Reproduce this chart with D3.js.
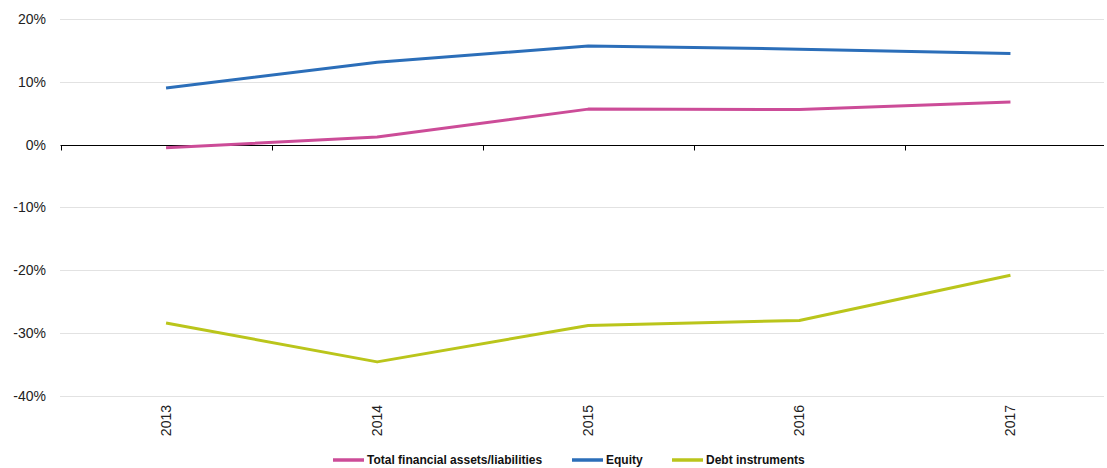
<!DOCTYPE html>
<html>
<head>
<meta charset="utf-8">
<script src="https://cdn.jsdelivr.net/npm/d3@7"></script>
<style>
  html, body { margin: 0; padding: 0; background: #fff; }
  svg { display: block; font-family: "Liberation Sans", Arial, sans-serif; }
</style>
</head>
<body>
<svg id="chart" width="1107" height="468"></svg>
<script>
// Annual growth rates by instrument
const years = ["2013", "2014", "2015", "2016", "2017"];
const totalFinancial = [-0.5, 1.2, 5.65, 5.6, 6.8];
const equity = [9.0, 13.1, 15.7, 15.2, 14.5];
const debtInstruments = [-28.4, -34.6, -28.8, -28.0, -20.8];
const yTicks = [20, 10, 0, -10, -20, -30, -40];
const seriesNames = ["Total financial assets/liabilities", "Equity", "Debt instruments"];
const seriesColors = ["#cc4c98", "#2b6eb9", "#bac51b"];

const series = [totalFinancial, equity, debtInstruments].map((values, i) => ({
  name: seriesNames[i], color: seriesColors[i], values
}));

const svg = d3.select("#chart");
const left = 60.5, right = 1116, plotRight = 1104;

const x = d3.scaleBand().domain(years).range([left, right]);
const y = d3.scaleLinear().domain([-40, 20]).range([395.8, 19]);

// Horizontal gridlines
svg.append("g")
  .selectAll("line")
  .data(yTicks.filter(t => t !== 0))
  .join("line")
  .attr("x1", left).attr("x2", plotRight)
  .attr("y1", d => Math.round(y(d)) + 0.5).attr("y2", d => Math.round(y(d)) + 0.5)
  .attr("stroke", "#c4c4c4")
  .attr("stroke-width", 1)
  .attr("stroke-dasharray", "1,1");

// Y axis labels
svg.append("g")
  .selectAll("text")
  .data(yTicks)
  .join("text")
  .attr("x", 46)
  .attr("y", d => y(d))
  .attr("dy", "0.35em")
  .attr("text-anchor", "end")
  .attr("font-size", 14)
  .attr("fill", "#222")
  .text(d => d + "%");

// Zero axis with ticks at category boundaries
const zeroY = Math.round(y(0)) + 0.5;
svg.append("line")
  .attr("x1", left).attr("x2", plotRight)
  .attr("y1", zeroY).attr("y2", zeroY)
  .attr("stroke", "#000").attr("stroke-width", 1.2);
const boundaries = years.map(d => x(d)).concat([x(years[years.length - 1]) + x.bandwidth()])
  .filter(v => v <= plotRight);
svg.append("g")
  .selectAll("line")
  .data(boundaries)
  .join("line")
  .attr("x1", d => Math.round(d) + 0.5).attr("x2", d => Math.round(d) + 0.5)
  .attr("y1", zeroY).attr("y2", zeroY + 5)
  .attr("stroke", "#000").attr("stroke-width", 1);

// Year labels, rotated
svg.append("g")
  .selectAll("text")
  .data(years)
  .join("text")
  .attr("transform", d => `translate(${x(d) + x.bandwidth() / 2},405) rotate(-90)`)
  .attr("dy", "0.35em")
  .attr("text-anchor", "end")
  .attr("font-size", 14)
  .attr("fill", "#222")
  .text(d => d);

// Series lines
const line = d3.line()
  .x((d, i) => x(years[i]) + x.bandwidth() / 2)
  .y(d => y(d));
svg.append("g")
  .selectAll("path")
  .data(series)
  .join("path")
  .attr("d", d => line(d.values))
  .attr("fill", "none")
  .attr("stroke", d => d.color)
  .attr("stroke-width", 3)
  .attr("stroke-linejoin", "round");

// Legend
const legendX = [333, 572, 672];
const legend = svg.append("g")
  .selectAll("g")
  .data(series)
  .join("g")
  .attr("transform", (d, i) => `translate(${legendX[i]},460)`);
legend.append("line")
  .attr("x1", 0).attr("x2", 31)
  .attr("stroke", d => d.color)
  .attr("stroke-width", 3.5);
legend.append("text")
  .attr("x", 34)
  .attr("dy", "0.35em")
  .attr("font-size", 12)
  .attr("font-weight", "bold")
  .attr("fill", "#111")
  .text(d => d.name);
</script>
</body>
</html>
